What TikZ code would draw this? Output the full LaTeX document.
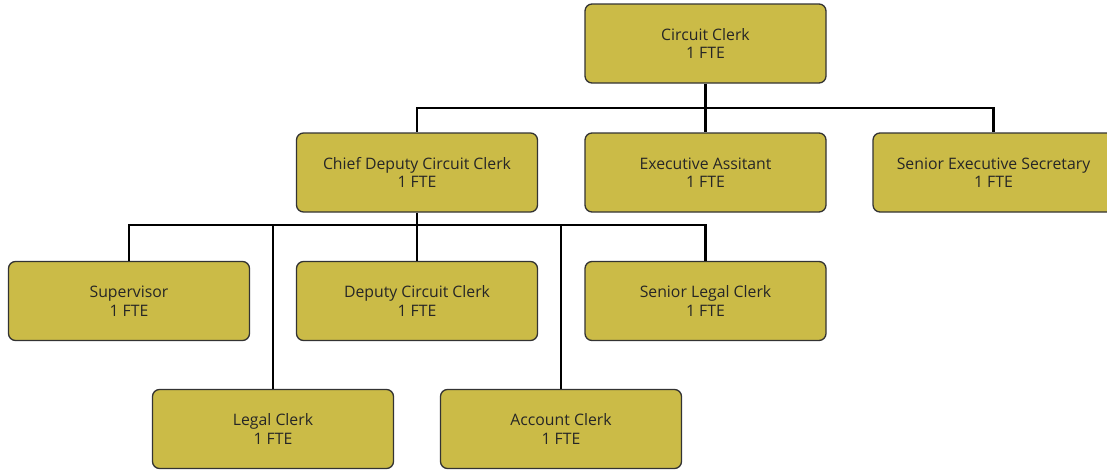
\documentclass[tikz,border=0pt]{standalone}
\usepackage{fontspec}
\setmainfont{Open Sans}
\begin{document}
\begin{tikzpicture}[x=1pt,y=-1pt,
  role/.style={draw=black!80, line width=1.3pt, fill=boxgold, rounded corners=7pt,
    minimum width=241pt, minimum height=79pt, align=center, inner sep=0pt,
    font=\fontsize{15.8}{18.5}\selectfont, text=black!85},
  link/.style={draw=black, line width=2.4pt}]
\definecolor{boxgold}{HTML}{CBBB47}
\useasboundingbox (0,0) rectangle (1107,471);
\clip (0,0) rectangle (1107,471);
% top level
\node[role] (cc) at (705.5,43.5) {Circuit Clerk\\1 FTE};
% second level
\node[role] (chief) at (417,172.5) {Chief Deputy Circuit Clerk\\1 FTE};
\node[role] (exec) at (705.5,172.5) {Executive Assitant\\1 FTE};
\node[role] (ses) at (993.5,172.5) {Senior Executive Secretary\\1 FTE};
% third level
\node[role] (sup) at (129,301) {Supervisor\\1 FTE};
\node[role] (dcc) at (417,301) {Deputy Circuit Clerk\\1 FTE};
\node[role] (slc) at (705.5,301) {Senior Legal Clerk\\1 FTE};
% fourth level
\node[role] (lc) at (273,429) {Legal Clerk\\1 FTE};
\node[role] (ac) at (561,429) {Account Clerk\\1 FTE};
% bus lines
\coordinate (bus1) at (705.5,108);
\coordinate (bus2) at (417,225);
\begin{scope}[on background layer/.try]
\draw[link] (cc.south) -- (bus1);
\draw[link] (bus1) -| (chief.north);
\draw[link] (bus1) -- (exec.north);
\draw[link] (bus1) -| (ses.north);
\draw[link] (chief.south) -- (bus2);
\draw[link] (bus2) -| (sup.north);
\draw[link] (bus2) -| (lc.north);
\draw[link] (bus2) -- (dcc.north);
\draw[link] (bus2) -| (ac.north);
\draw[link] (bus2) -| (slc.north);
\end{scope}
\end{tikzpicture}
\end{document}
